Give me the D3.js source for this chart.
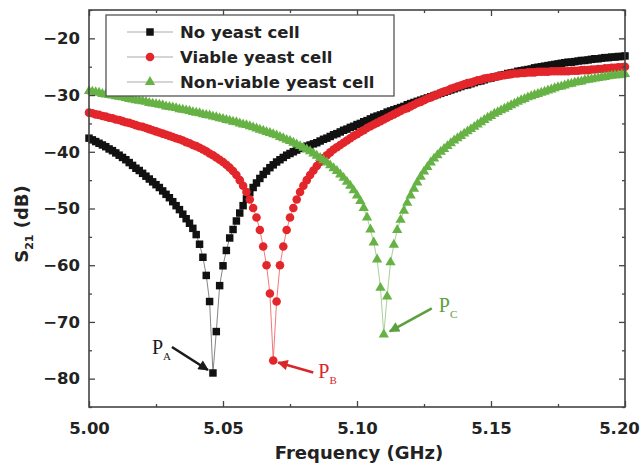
<!DOCTYPE html>
<html>
<head>
<meta charset="utf-8">
<script src="https://cdn.jsdelivr.net/npm/d3@7/dist/d3.min.js"></script>
<style>
  body { margin: 0; background: #fff; }
  svg { display: block; }
</style>
</head>
<body>
<div id="chart"></div>
<script>
// linear VNA sweep: 161 points from 5.00 to 5.20 GHz
var sweepStart = 5.0, sweepStep = 0.00125;

// S21 (dB), one value per sweep point
var noYeast = [
  -37.6,-37.9,-38.2,-38.5,-38.8,-39.1,-39.5,-39.8,-40.2,-40.6,
  -41.0,-41.4,-41.9,-42.4,-42.9,-43.3,-43.8,-44.3,-44.8,-45.3,
  -45.8,-46.3,-46.9,-47.5,-48.1,-48.8,-49.5,-50.2,-51.0,-51.8,
  -52.6,-53.5,-54.6,-56.3,-58.6,-61.8,-66.4,-79.0,-71.7,-63.6,
  -60.1,-57.4,-55.2,-53.7,-52.2,-50.8,-49.5,-48.3,-47.2,-46.3,
  -45.5,-44.7,-44.0,-43.4,-42.8,-42.3,-41.8,-41.4,-41.0,-40.6,
  -40.3,-40.0,-39.7,-39.4,-39.2,-39.0,-38.8,-38.6,-38.4,-38.1,
  -37.8,-37.6,-37.3,-37.0,-36.8,-36.5,-36.2,-36.0,-35.7,-35.5,
  -35.2,-35.0,-34.7,-34.5,-34.2,-33.9,-33.7,-33.5,-33.3,-33.0,
  -32.8,-32.6,-32.4,-32.2,-32.0,-31.7,-31.5,-31.3,-31.1,-30.9,
  -30.7,-30.5,-30.3,-30.1,-29.9,-29.7,-29.5,-29.3,-29.1,-28.9,
  -28.7,-28.5,-28.3,-28.2,-28.0,-27.8,-27.6,-27.5,-27.3,-27.1,
  -27.0,-26.8,-26.7,-26.5,-26.4,-26.2,-26.1,-26.0,-25.8,-25.7,
  -25.6,-25.5,-25.4,-25.2,-25.1,-25.0,-24.9,-24.8,-24.7,-24.6,
  -24.5,-24.4,-24.3,-24.2,-24.2,-24.1,-24.0,-23.9,-23.9,-23.8,
  -23.7,-23.6,-23.6,-23.5,-23.4,-23.4,-23.3,-23.3,-23.2,-23.2,-23.1
];

var viableYeast = [
  -33.1,-33.2,-33.4,-33.5,-33.7,-33.8,-34.0,-34.1,-34.3,-34.4,
  -34.6,-34.8,-34.9,-35.1,-35.3,-35.5,-35.6,-35.8,-36.0,-36.2,
  -36.4,-36.6,-36.8,-37.0,-37.2,-37.4,-37.6,-37.8,-38.0,-38.3,
  -38.5,-38.8,-39.0,-39.3,-39.6,-39.9,-40.3,-40.6,-41.0,-41.4,
  -41.8,-42.3,-42.8,-43.4,-44.1,-45.0,-46.0,-47.1,-48.4,-49.9,
  -51.6,-53.8,-56.7,-60.0,-65.0,-76.8,-66.4,-60.0,-56.7,-53.8,
  -51.6,-49.9,-48.4,-47.1,-46.0,-45.0,-44.1,-43.3,-42.5,-41.8,
  -41.1,-40.6,-40.1,-39.6,-39.2,-38.8,-38.4,-38.0,-37.6,-37.2,
  -36.9,-36.5,-36.2,-35.8,-35.5,-35.2,-34.9,-34.6,-34.3,-34.0,
  -33.7,-33.4,-33.1,-32.8,-32.5,-32.3,-32.0,-31.7,-31.4,-31.2,
  -30.9,-30.6,-30.4,-30.1,-29.9,-29.6,-29.4,-29.2,-28.9,-28.7,
  -28.5,-28.3,-28.1,-27.9,-27.8,-27.6,-27.4,-27.3,-27.1,-27.0,
  -26.9,-26.8,-26.7,-26.6,-26.5,-26.4,-26.3,-26.2,-26.2,-26.1,
  -26.1,-26.0,-26.0,-26.0,-25.9,-25.9,-25.9,-25.9,-25.8,-25.8,
  -25.8,-25.8,-25.8,-25.8,-25.7,-25.7,-25.7,-25.6,-25.6,-25.6,
  -25.5,-25.5,-25.4,-25.4,-25.3,-25.3,-25.2,-25.2,-25.1,-25.1,-25.0
];

var nonViableYeast = [
  -29.3,-29.4,-29.5,-29.6,-29.8,-29.9,-30.0,-30.1,-30.2,-30.3,
  -30.4,-30.5,-30.7,-30.8,-30.9,-31.0,-31.1,-31.2,-31.4,-31.5,
  -31.6,-31.7,-31.8,-32.0,-32.1,-32.2,-32.3,-32.5,-32.6,-32.7,
  -32.8,-33.0,-33.1,-33.2,-33.4,-33.5,-33.6,-33.8,-33.9,-34.1,
  -34.2,-34.4,-34.5,-34.7,-34.8,-35.0,-35.2,-35.3,-35.5,-35.7,
  -35.9,-36.1,-36.3,-36.5,-36.7,-36.9,-37.1,-37.4,-37.6,-37.9,
  -38.1,-38.4,-38.7,-39.0,-39.3,-39.6,-39.9,-40.3,-40.7,-41.1,
  -41.5,-41.9,-42.4,-42.9,-43.4,-44.0,-44.6,-45.3,-46.0,-46.8,
  -47.7,-48.7,-49.9,-51.6,-53.7,-56.0,-59.0,-64.0,-72.2,-65.5,
  -59.5,-56.4,-53.8,-52.0,-50.4,-49.0,-47.7,-46.5,-45.4,-44.4,
  -43.5,-42.7,-41.9,-41.2,-40.6,-40.0,-39.5,-39.0,-38.5,-38.0,
  -37.6,-37.2,-36.8,-36.4,-36.0,-35.6,-35.2,-34.8,-34.4,-34.0,
  -33.7,-33.3,-33.0,-32.7,-32.4,-32.1,-31.8,-31.5,-31.2,-30.9,
  -30.7,-30.4,-30.2,-30.0,-29.8,-29.6,-29.4,-29.2,-29.0,-28.8,
  -28.6,-28.5,-28.3,-28.1,-28.0,-27.8,-27.7,-27.6,-27.4,-27.3,
  -27.2,-27.1,-27.0,-26.9,-26.8,-26.7,-26.6,-26.5,-26.5,-26.4,-26.3
];

var seriesNames = ["No yeast cell", "Viable yeast cell", "Non-viable yeast cell"];
var peakLabels = ["A", "B", "C"];
var xTicks = [5.00, 5.05, 5.10, 5.15, 5.20];
var xMinorTicks = [5.025, 5.075, 5.125, 5.175];
var yTicks = [-80, -70, -60, -50, -40, -30, -20];
var yMinorTicks = [-85, -75, -65, -55, -45, -35, -25, -15];

var width = 644, height = 468;
var margin = {top: 10, right: 19, bottom: 61, left: 89};
var font = "'DejaVu Sans', sans-serif";

var svg = d3.select("#chart").append("svg")
    .attr("width", width)
    .attr("height", height);

var x = d3.scaleLinear().domain([5.0, 5.2]).range([margin.left, width - margin.right]);
var y = d3.scaleLinear().domain([-85, -15]).range([height - margin.bottom, margin.top]);

var series = [
    {name: seriesNames[0], values: noYeast, color: "#111", line: "#777", shape: d3.symbolSquare, size: 56, label: peakLabels[0], labelColor: "#1a1a1a"},
    {name: seriesNames[1], values: viableYeast, color: "#e3262b", line: "#ee6a6a", shape: d3.symbolCircle, size: 58, label: peakLabels[1], labelColor: "#d8262b"},
    {name: seriesNames[2], values: nonViableYeast, color: "#67b244", line: "#9ccc8a", shape: d3.symbolTriangle, size: 46, label: peakLabels[2], labelColor: "#5c9f3e"}
];
series.forEach(function(s) {
    s.points = s.values.map(function(v, i) { return {f: sweepStart + i * sweepStep, db: v}; });
});

// curves
var line = d3.line()
    .x(function(d) { return x(d.f); })
    .y(function(d) { return y(d.db); });

series.forEach(function(s) {
    var g = svg.append("g");
    g.append("path")
        .datum(s.points)
        .attr("d", line)
        .attr("fill", "none")
        .attr("stroke", s.line)
        .attr("stroke-width", 0.9);
    g.selectAll("path.pt")
        .data(s.points)
        .enter().append("path")
        .attr("class", "pt")
        .attr("transform", function(d) { return "translate(" + x(d.f) + "," + y(d.db) + ")"; })
        .attr("d", d3.symbol().type(s.shape).size(s.size))
        .attr("fill", s.color);
});

// axes, ticks pointing inward on all four sides
function styleAxis(g) {
    g.select(".domain").remove();
    g.selectAll(".tick line").attr("stroke", "#444").attr("stroke-width", 1.3);
    g.selectAll("text")
        .attr("fill", "#222")
        .style("font-family", font)
        .style("font-weight", "bold")
        .style("font-size", "16.5px");
}
var yBottom = height - margin.bottom, xRight = width - margin.right;

var xAxisG = svg.append("g").attr("transform", "translate(0," + yBottom + ")")
    .call(d3.axisBottom(x).tickValues(xTicks).tickSize(-6).tickPadding(15).tickFormat(d3.format(".2f")))
    .call(styleAxis);
// keep the last label inside the page
xAxisG.selectAll(".tick text").filter(function(d) { return d === 5.20; }).attr("dx", -6);

svg.append("g").attr("transform", "translate(0," + yBottom + ")")
    .call(d3.axisBottom(x).tickValues(xMinorTicks).tickSize(-3).tickFormat(""))
    .call(styleAxis);
svg.append("g").attr("transform", "translate(0," + margin.top + ")")
    .call(d3.axisTop(x).tickValues(xTicks).tickSize(-6).tickFormat(""))
    .call(styleAxis);
svg.append("g").attr("transform", "translate(0," + margin.top + ")")
    .call(d3.axisTop(x).tickValues(xMinorTicks).tickSize(-3).tickFormat(""))
    .call(styleAxis);
svg.append("g").attr("transform", "translate(" + margin.left + ",0)")
    .call(d3.axisLeft(y).tickValues(yTicks).tickSize(-6).tickPadding(9))
    .call(styleAxis);
svg.append("g").attr("transform", "translate(" + margin.left + ",0)")
    .call(d3.axisLeft(y).tickValues(yMinorTicks).tickSize(-3).tickFormat(""))
    .call(styleAxis);
svg.append("g").attr("transform", "translate(" + xRight + ",0)")
    .call(d3.axisRight(y).tickValues(yTicks).tickSize(-6).tickFormat(""))
    .call(styleAxis);
svg.append("g").attr("transform", "translate(" + xRight + ",0)")
    .call(d3.axisRight(y).tickValues(yMinorTicks).tickSize(-3).tickFormat(""))
    .call(styleAxis);

// frame
svg.append("rect")
    .attr("x", margin.left)
    .attr("y", margin.top)
    .attr("width", xRight - margin.left)
    .attr("height", yBottom - margin.top)
    .attr("fill", "none")
    .attr("stroke", "#444")
    .attr("stroke-width", 1.6);

// axis titles
svg.append("text")
    .attr("x", (margin.left + xRight) / 2 + 2)
    .attr("y", 459)
    .attr("text-anchor", "middle")
    .style("font-family", font)
    .style("font-weight", "bold")
    .style("font-size", "18px")
    .attr("fill", "#222")
    .text("Frequency (GHz)");

var yTitle = svg.append("text")
    .attr("transform", "translate(28,224) rotate(-90)")
    .attr("text-anchor", "middle")
    .style("font-family", font)
    .style("font-weight", "bold")
    .style("font-size", "18px")
    .attr("fill", "#222");
yTitle.append("tspan").text("S");
yTitle.append("tspan").attr("dy", 5).style("font-size", "11px").text("21");
yTitle.append("tspan").attr("dy", -5).text(" (dB)");

// legend
var legend = svg.append("g");
legend.append("rect")
    .attr("x", 106).attr("y", 15)
    .attr("width", 288).attr("height", 81)
    .attr("fill", "#fff")
    .attr("stroke", "#555")
    .attr("stroke-width", 1.3);
series.forEach(function(s, i) {
    var cy = 32 + i * 25;
    legend.append("line")
        .attr("x1", 127).attr("x2", 173)
        .attr("y1", cy).attr("y2", cy)
        .attr("stroke", "#aaa")
        .attr("stroke-width", 1);
    legend.append("path")
        .attr("transform", "translate(150," + cy + ")")
        .attr("d", d3.symbol().type(s.shape).size(s.size))
        .attr("fill", s.color);
    legend.append("text")
        .attr("x", 180).attr("y", cy)
        .attr("dy", "0.36em")
        .style("font-family", font)
        .style("font-weight", "bold")
        .style("font-size", "16.5px")
        .attr("fill", "#222")
        .text(s.name);
});

// resonance markers P_A, P_B, P_C with arrows
var defs = svg.append("defs");
series.forEach(function(s, i) {
    defs.append("marker")
        .attr("id", "head" + i)
        .attr("viewBox", "0 0 10 10")
        .attr("refX", 9).attr("refY", 5)
        .attr("markerWidth", 4.5).attr("markerHeight", 4)
        .attr("markerUnits", "strokeWidth")
        .attr("orient", "auto")
        .append("path")
        .attr("d", "M0,0L10,5L0,10z")
        .attr("fill", s.labelColor);
});

// offsets (px) of arrow tail, arrow tip and label from each dip point
var arrowSpec = [
    {tail: [-41, -26], tip: [-5, -3], text: [-61, -19]},
    {tail: [40, 12], tip: [5, 2], text: [45, 18]},
    {tail: [48, -26], tip: [6, -3], text: [55, -22]}
];
series.forEach(function(s, i) {
    var dip = s.points.reduce(function(a, b) { return b.db < a.db ? b : a; });
    var px = x(dip.f), py = y(dip.db), sp = arrowSpec[i];
    svg.append("line")
        .attr("x1", px + sp.tail[0]).attr("y1", py + sp.tail[1])
        .attr("x2", px + sp.tip[0]).attr("y2", py + sp.tip[1])
        .attr("stroke", s.labelColor)
        .attr("stroke-width", 2.6)
        .attr("marker-end", "url(#head" + i + ")");
    var t = svg.append("text")
        .attr("x", px + sp.text[0]).attr("y", py + sp.text[1])
        .style("font-family", "'Liberation Serif', 'DejaVu Serif', serif")
        .style("font-size", "20px")
        .attr("fill", s.labelColor);
    t.append("tspan").text("P");
    t.append("tspan").attr("dy", 6).style("font-size", "11px").text(s.label);
});
</script>
</body>
</html>
